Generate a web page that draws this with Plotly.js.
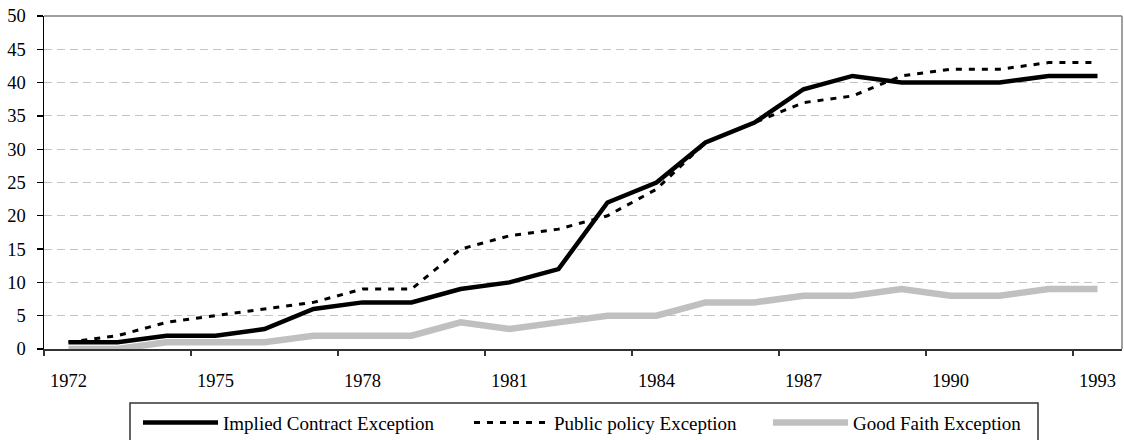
<!DOCTYPE html>
<html>
<head>
<meta charset="utf-8">
<script src="https://cdn.plot.ly/plotly-3.0.1.min.js"></script>
<style>
  html, body { margin: 0; padding: 0; background: #ffffff; }
  #chart { width: 1124px; height: 440px; }
</style>
</head>
<body>
<div id="chart"></div>
<script>
// ---- Data ----
const years = [1972, 1973, 1974, 1975, 1976, 1977, 1978, 1979, 1980, 1981, 1982,
               1983, 1984, 1985, 1986, 1987, 1988, 1989, 1990, 1991, 1992, 1993];
const impliedContract = [1, 1, 2, 2, 3, 6, 7, 7, 9, 10, 12,
                         22, 25, 31, 34, 39, 41, 40, 40, 40, 41, 41];
const publicPolicy = [1, 2, 4, 5, 6, 7, 9, 9, 15, 17, 18,
                      20, 24, 31, 34, 37, 38, 41, 42, 42, 43, 43];
const goodFaith = [0, 0, 1, 1, 1, 2, 2, 2, 4, 3, 4,
                   5, 5, 7, 7, 8, 8, 9, 8, 8, 9, 9];
const tickYears = [1972, 1975, 1978, 1981, 1984, 1987, 1990, 1993];
const seriesNames = ['Implied Contract Exception', 'Public policy Exception', 'Good Faith Exception'];
const yTicks = [0, 5, 10, 15, 20, 25, 30, 35, 40, 45, 50];

// tick marks sit between categories, one every three categories
const boundaryTicks = tickYears.map(function (y) { return y - 0.5; });

const FONT = "'Liberation Serif', 'Times New Roman', Times, serif";
const xRange = [years[0] - 0.5, years[years.length - 1] + 0.5];

const traces = [
  { x: years, y: impliedContract, name: seriesNames[0], type: 'scatter', mode: 'lines',
    line: { color: '#000000', width: 4.5 }, legend: 'legend' },
  { x: years, y: publicPolicy, name: seriesNames[1], type: 'scatter', mode: 'lines',
    line: { color: '#000000', width: 3, dash: '6px,7px' }, legend: 'legend2' },
  { x: years, y: goodFaith, name: seriesNames[2], type: 'scatter', mode: 'lines',
    line: { color: '#c0c0c0', width: 6.5 }, legend: 'legend3' },
  // invisible helper on the overlay axis so its between-category tick marks get drawn
  { x: xRange, y: [0, 0], xaxis: 'x2', yaxis: 'y', mode: 'lines',
    line: { width: 0 }, showlegend: false, hoverinfo: 'skip' }
];
// draw order: gray behind, then dotted, then solid black on top
const ordered = [traces[2], traces[1], traces[0], traces[3]];

function legendAt(px) {
  return {
    orientation: 'h', x: (px - 44) / 1078, xanchor: 'left',
    yref: 'container', y: 1 - 403.7 / 440, yanchor: 'top',
    bgcolor: 'rgba(0,0,0,0)', borderwidth: 0,
    itemwidth: 75, font: { family: FONT, size: 19, color: '#000000' }
  };
}

const layout = {
  width: 1124, height: 440,
  margin: { l: 44, r: 2, t: 16, b: 91 },
  paper_bgcolor: '#ffffff', plot_bgcolor: '#ffffff',
  font: { family: FONT, size: 18.5, color: '#000000' },
  showlegend: true,
  xaxis: {
    range: xRange, tickmode: 'array', tickvals: tickYears, ticktext: tickYears.map(String),
    ticks: '', ticklabelstandoff: 14, showgrid: false, zeroline: false,
    showline: true, linecolor: '#333333', linewidth: 1.5,
    tickfont: { family: FONT, size: 18.5, color: '#000000' }, fixedrange: true
  },
  xaxis2: {
    range: xRange, overlaying: 'x', anchor: 'y', side: 'bottom',
    tickmode: 'array', tickvals: boundaryTicks, ticks: 'outside', ticklen: 6, tickwidth: 1.3,
    tickcolor: '#333333', showticklabels: false, showgrid: false, zeroline: false,
    showline: false, fixedrange: true
  },
  yaxis: {
    range: [0, 50], tickmode: 'array', tickvals: yTicks, ticktext: yTicks.map(String),
    ticks: 'outside', ticklen: 6, tickwidth: 1.3, tickcolor: '#000000', ticklabelstandoff: 7,
    showgrid: true, gridcolor: '#c4c4c4', gridwidth: 1, griddash: '8px,5px',
    zeroline: false, showline: true, linecolor: '#000000', linewidth: 1.5,
    tickfont: { family: FONT, size: 18.5, color: '#000000' }, fixedrange: true
  },
  shapes: [
    // gray frame on top and right of the plot area
    { type: 'line', xref: 'paper', yref: 'paper', x0: 0, x1: 1, y0: 1, y1: 1,
      line: { color: '#808080', width: 1.5 } },
    { type: 'line', xref: 'paper', yref: 'paper', x0: 1, x1: 1, y0: 0, y1: 1,
      line: { color: '#808080', width: 1.5 } },
    // legend box (runs past the bottom edge as in the original)
    { type: 'rect', xref: 'paper', yref: 'paper',
      x0: (130 - 44) / 1078, x1: (1038 - 44) / 1078, y0: -(460 - 349) / 333, y1: -(403 - 349) / 333,
      line: { color: '#333333', width: 1.5 }, fillcolor: 'rgba(0,0,0,0)' }
  ],
  legend: legendAt(138),
  legend2: legendAt(469),
  legend3: legendAt(768)
};

Plotly.newPlot('chart', ordered, layout, { displayModeBar: false, staticPlot: true });
</script>
</body>
</html>
